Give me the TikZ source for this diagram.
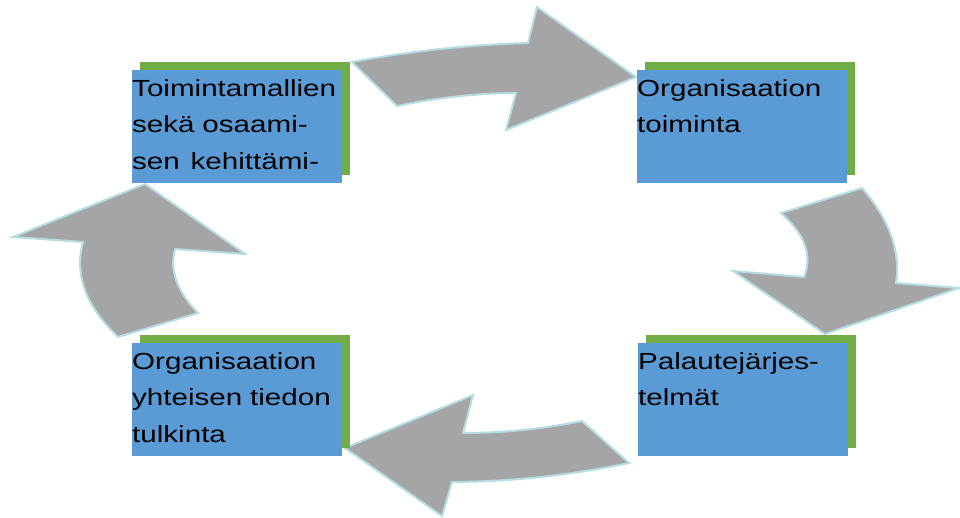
\documentclass[tikz,border=0pt]{standalone}
\usepackage{fontspec}
\setmainfont{Liberation Sans}[FakeStretch=1.27]
\usetikzlibrary{shadows}

\definecolor{boxblue}{HTML}{5B9BD5}
\definecolor{boxgreen}{HTML}{70AD47}
\definecolor{arrowgray}{HTML}{A5A5A5}
\definecolor{arrowrim}{RGB}{180,222,228}

\tikzset{
  stage/.style={
    anchor=north west, fill=boxblue, inner sep=0pt,
    text width=210pt, align=left,
    text height=26pt, text depth=86.5pt,
    font=\fontsize{23.3pt}{36.7pt}\selectfont,
    drop shadow={shadow xshift=8pt, shadow yshift=8pt, fill=boxgreen, opacity=1}
  },
  cyclearrow/.style={fill=arrowgray, draw=arrowrim, line width=2pt, line join=miter}
}

\begin{document}
\begin{tikzpicture}[x=1pt, y=-1pt]
  \useasboundingbox (0,0) rectangle (960,517);

  % curved block arrows of the cycle
  % top: left box -> right box
  \path[cyclearrow]
    (352,62) .. controls (410.7,51) and (469.3,44.7) .. (528,43)
    -- (537,7) -- (636,77) -- (506,130) -- (516,93)
    .. controls (476.3,93.3) and (436.7,97.7) .. (397,106) -- cycle;
  % right: top box -> bottom box
  \path[cyclearrow]
    (781,213) -- (862,188)
    .. controls (889.5,220) and (900.9,251.7) .. (896,283)
    -- (959,288) -- (825,334) -- (733,271) -- (804,277)
    .. controls (812.7,255.7) and (805,234.3) .. (781,213) -- cycle;
  % bottom: right box -> left box
  \path[cyclearrow]
    (582,421) .. controls (542.3,429) and (502.7,433) .. (463,433)
    -- (473,395) -- (345,448) -- (442,516) -- (452,482)
    .. controls (511,481.7) and (570,475.3) .. (629,463) -- cycle;
  % left: bottom box -> top box
  \path[cyclearrow]
    (118,337) -- (198,313)
    .. controls (177,291.7) and (169.3,270.3) .. (175,249)
    -- (245,254) -- (145,184) -- (13,237) -- (83,242)
    .. controls (74,274.3) and (85.7,306) .. (118,337) -- cycle;

  % the four stages
  \node[stage] (kehitys) at (132,70)
    {Toimintamallien\\sekä osaami-\\sen\hspace{3pt} kehittämi-};
  \node[stage] (toiminta) at (637,70)
    {Organisaation\\toiminta};
  \node[stage] (palaute) at (638,343)
    {Palautejärjes-\\telmät};
  \node[stage] (tulkinta) at (132,343)
    {Organisaation\\yhteisen tiedon\\tulkinta};
\end{tikzpicture}
\end{document}
